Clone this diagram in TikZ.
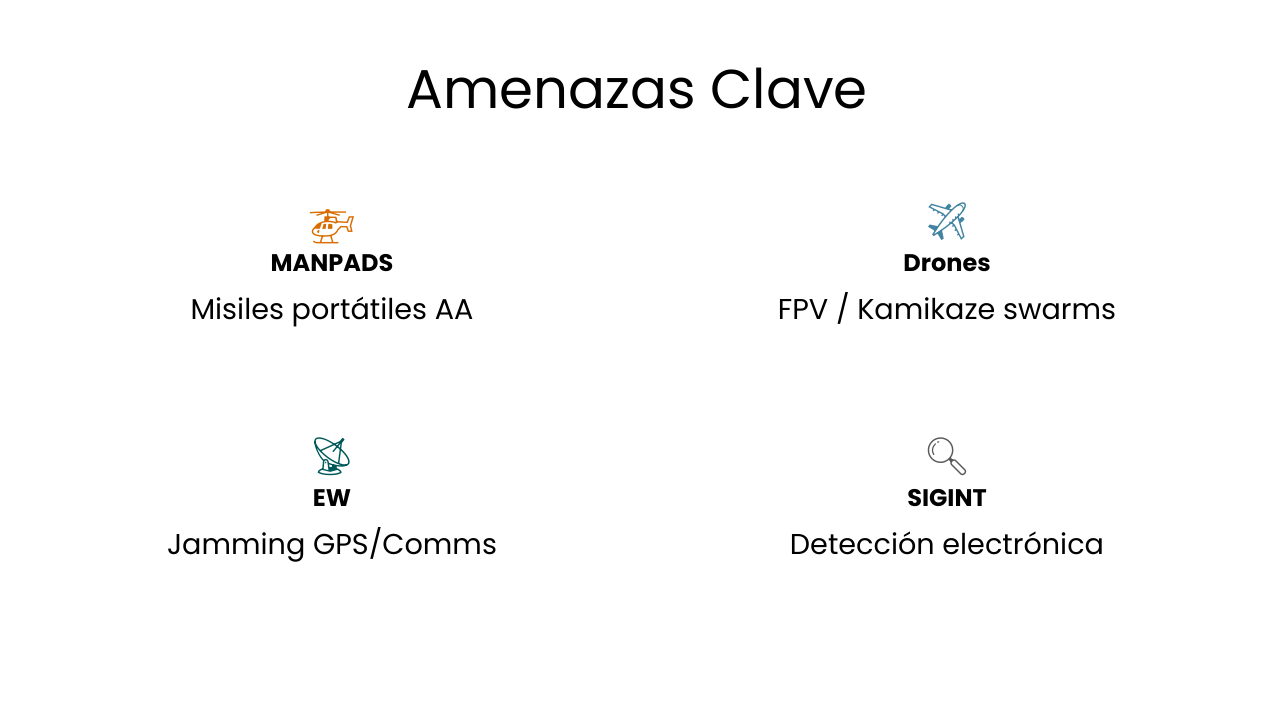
\documentclass[tikz,border=0pt]{standalone}
\usepackage{fontspec}
\setmainfont{Poppins}
\newfontfamily\emojifont{Noto Emoji}
\begin{document}
\begin{tikzpicture}[x=0.75pt,y=-0.75pt]
	\tikzstyle{icon} = [font=\emojifont\fontsize{28}{30}\selectfont, inner sep=0pt]
	\tikzstyle{head} = [font=\fontsize{18}{20}\selectfont\bfseries, inner sep=0pt, anchor=base]
	\tikzstyle{desc} = [font=\fontsize{21.5}{24}\selectfont, inner sep=0pt, anchor=base]

	\useasboundingbox (0,0) rectangle (1280,720);

	\node[font=\fontsize{41}{46}\selectfont, inner sep=0pt, anchor=base] (title) at (637,109) {Amenazas Clave};

	% top row
	\node[icon, text=orange!85!black] (manpadsicon) at (332,227) {🚁};
	\node[head] (manpads) at (332,271) {MANPADS};
	\node[desc] (manpadsdesc) at (332,319) {Misiles portátiles AA};

	\node[icon, text=cyan!60!black] (dronesicon) at (947,222) {✈};
	\node[head] (drones) at (947,271) {Drones};
	\node[desc] (dronesdesc) at (947,319) {FPV / Kamikaze swarms};

	% bottom row
	\node[icon, text=teal!70!black] (ewicon) at (332,457) {📡};
	\node[head] (ew) at (332,506) {EW};
	\node[desc] (ewdesc) at (332,554) {Jamming GPS/Comms};

	\node[icon, text=gray!70!black] (siginticon) at (947,457) {🔍};
	\node[head] (sigint) at (947,506) {SIGINT};
	\node[desc] (sigintdesc) at (947,554) {Detección electrónica};
\end{tikzpicture}
\end{document}
